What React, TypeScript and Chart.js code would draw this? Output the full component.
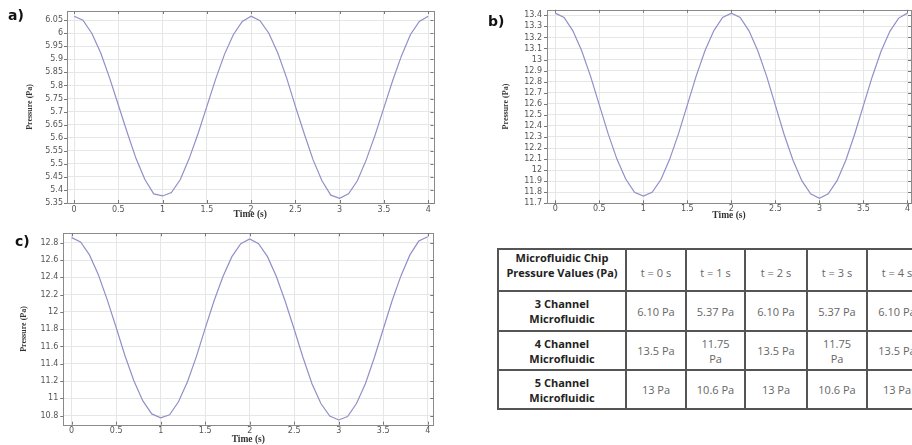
import React, { useEffect, useRef } from "react";
import { Chart, registerables } from "chart.js";

Chart.register(...registerables);

// ---------- data ----------
const times = [
  0, 0.1, 0.2, 0.3, 0.4, 0.5, 0.6, 0.7, 0.8, 0.9, 1.0, 1.1, 1.2, 1.3, 1.4, 1.5, 1.6, 1.7, 1.8, 1.9, 2.0,
  2.1, 2.2, 2.3, 2.4, 2.5, 2.6, 2.7, 2.8, 2.9, 3.0, 3.1, 3.2, 3.3, 3.4, 3.5, 3.6, 3.7, 3.8, 3.9, 4.0,
];

const pressure3Channel = [
  6.065, 6.05, 6.0, 5.925, 5.83, 5.725, 5.62, 5.52, 5.44, 5.385, 5.377, 5.39, 5.44, 5.52, 5.615, 5.72,
  5.825, 5.92, 5.995, 6.045, 6.065, 6.048, 6.0, 5.925, 5.83, 5.72, 5.615, 5.515, 5.435, 5.38, 5.368,
  5.385, 5.435, 5.515, 5.61, 5.715, 5.82, 5.915, 5.995, 6.045, 6.065,
];

const pressure4Channel = [
  13.42, 13.38, 13.26, 13.08, 12.85, 12.59, 12.33, 12.1, 11.92, 11.8, 11.765, 11.8, 11.915, 12.1, 12.33,
  12.59, 12.85, 13.08, 13.26, 13.38, 13.42, 13.38, 13.26, 13.08, 12.85, 12.585, 12.32, 12.09, 11.905,
  11.785, 11.745, 11.785, 11.905, 12.09, 12.325, 12.585, 12.845, 13.075, 13.255, 13.375, 13.42,
];

const pressure5Channel = [
  12.86, 12.81, 12.66, 12.43, 12.14, 11.82, 11.49, 11.2, 10.97, 10.82, 10.775, 10.81, 10.96, 11.19, 11.48,
  11.81, 12.13, 12.41, 12.64, 12.79, 12.845, 12.79, 12.64, 12.41, 12.12, 11.8, 11.47, 11.17, 10.94,
  10.795, 10.75, 10.79, 10.94, 11.17, 11.47, 11.8, 12.13, 12.42, 12.66, 12.82, 12.87,
];

const xTicks = [0, 0.5, 1, 1.5, 2, 2.5, 3, 3.5, 4];
const yTicksA = [5.35, 5.4, 5.45, 5.5, 5.55, 5.6, 5.65, 5.7, 5.75, 5.8, 5.85, 5.9, 5.95, 6, 6.05];
const yTicksB = [
  11.7, 11.8, 11.9, 12, 12.1, 12.2, 12.3, 12.4, 12.5, 12.6, 12.7, 12.8, 12.9, 13, 13.1, 13.2, 13.3, 13.4,
];
const yTicksC = [10.8, 11, 11.2, 11.4, 11.6, 11.8, 12, 12.2, 12.4, 12.6, 12.8];

const tableCorner = "Microfluidic Chip Pressure Values (Pa)";
const tableTimes = ["t = 0 s", "t = 1 s", "t = 2 s", "t = 3 s", "t = 4 s"];
const tableChannels = ["3 Channel Microfluidic", "4 Channel Microfluidic", "5 Channel Microfluidic"];
const table3Channel = ["6.10 Pa", "5.37 Pa", "6.10 Pa", "5.37 Pa", "6.10 Pa"];
const table4Channel = ["13.5 Pa", "11.75 Pa", "13.5 Pa", "11.75 Pa", "13.5 Pa"];
const table5Channel = ["13 Pa", "10.6 Pa", "13 Pa", "10.6 Pa", "13 Pa"];

// ---------- styles ----------
const LINE_COLOR = "#9090c8";
const GRID_COLOR = "#e6e6e6";
const FRAME_COLOR = "#8a8a8a";
const TICK_FONT = { family: "DejaVu Sans", size: 8 };
const TICK_COLOR = "#555";

const framePlugin = {
  id: "frameTicks",
  afterDraw(chart: any) {
    const { ctx, chartArea: a, scales } = chart;
    ctx.save();
    ctx.strokeStyle = FRAME_COLOR;
    ctx.lineWidth = 1;
    ctx.strokeRect(
      Math.round(a.left) + 0.5,
      Math.round(a.top) + 0.5,
      Math.round(a.right) - Math.round(a.left),
      Math.round(a.bottom) - Math.round(a.top)
    );
    ctx.strokeStyle = "#777";
    ctx.beginPath();
    for (const t of scales.x.ticks) {
      const px = Math.round(scales.x.getPixelForValue(t.value)) + 0.5;
      ctx.moveTo(px, a.bottom);
      ctx.lineTo(px, a.bottom - 3);
      ctx.moveTo(px, a.top);
      ctx.lineTo(px, a.top + 3);
    }
    for (const t of scales.y.ticks) {
      const py = Math.round(scales.y.getPixelForValue(t.value)) + 0.5;
      ctx.moveTo(a.left - 3, py);
      ctx.lineTo(a.left, py);
      ctx.moveTo(a.right, py);
      ctx.lineTo(a.right - 3, py);
    }
    ctx.stroke();
    ctx.restore();
  },
};

type PanelProps = {
  values: number[];
  yTicks: number[];
  xMin: number;
  xMax: number;
  yMin: number;
  yMax: number;
  width: number;
  height: number;
  pad: { left: number; top: number; right: number; bottom: number };
  yAxisWidth: number;
  xAxisHeight: number;
  xLabelPad: number;
  yLabelPad: number;
};

function Panel(p: PanelProps) {
  const ref = useRef<HTMLCanvasElement | null>(null);
  useEffect(() => {
    if (!ref.current) return;
    const chart = new Chart(ref.current, {
      type: "line",
      data: {
        datasets: [
          {
            data: times.map((t, i) => ({ x: t, y: p.values[i] })),
            borderColor: LINE_COLOR,
            borderWidth: 1.2,
            pointRadius: 0,
            tension: 0,
            fill: false,
          },
        ],
      },
      options: {
        responsive: false,
        animation: false,
        layout: { padding: p.pad },
        plugins: { legend: { display: false }, tooltip: { enabled: false } },
        scales: {
          x: {
            type: "linear",
            min: p.xMin,
            max: p.xMax,
            afterBuildTicks: (s: any) => {
              s.ticks = xTicks.map((v) => ({ value: v }));
            },
            afterFit: (s: any) => {
              s.height = p.xAxisHeight;
            },
            grid: { color: GRID_COLOR, drawTicks: false },
            border: { display: false },
            ticks: {
              autoSkip: false,
              maxRotation: 0,
              padding: p.xLabelPad,
              font: TICK_FONT,
              color: TICK_COLOR,
              callback: (v: any) => String(v),
            },
            title: {
              display: true,
              text: "Time (s)",
              font: { family: "Liberation Serif", size: 9.5, weight: "bold" },
              color: "#333",
              padding: 0,
            },
          },
          y: {
            type: "linear",
            min: p.yMin,
            max: p.yMax,
            afterBuildTicks: (s: any) => {
              s.ticks = p.yTicks.map((v) => ({ value: v }));
            },
            afterFit: (s: any) => {
              s.width = p.yAxisWidth;
            },
            grid: { color: GRID_COLOR, drawTicks: false },
            border: { display: false },
            ticks: {
              autoSkip: false,
              padding: p.yLabelPad,
              font: TICK_FONT,
              color: TICK_COLOR,
              callback: (v: any) => String(v),
            },
            title: {
              display: true,
              text: "Pressure (Pa)",
              font: { family: "Liberation Serif", size: 8, weight: "bold" },
              color: "#333",
              padding: 0,
            },
          },
        },
      } as any,
      plugins: [framePlugin],
    });
    return () => chart.destroy();
  }, []);
  return <canvas ref={ref} width={p.width} height={p.height} style={{ display: "block" }} />;
}

const labelStyle: React.CSSProperties = {
  position: "absolute",
  fontFamily: "DejaVu Sans",
  fontWeight: "bold",
  fontSize: 14,
  lineHeight: "14px",
  color: "#111",
};

const TABLE_COL_W = [128, 60, 59, 62, 60, 60];
const TABLE_ROW_H = [42, 40, 39, 39];

function DataTable() {
  const rows: string[][] = [
    [tableCorner, ...tableTimes],
    [tableChannels[0], ...table3Channel],
    [tableChannels[1], ...table4Channel],
    [tableChannels[2], ...table5Channel],
  ];
  const cells: React.ReactNode[] = [];
  let top = 0;
  rows.forEach((row, r) => {
    let left = 0;
    row.forEach((text, c) => {
      const isHeader = r === 0;
      const bold = c === 0;
      cells.push(
        <div
          key={`${r}-${c}`}
          style={{
            position: "absolute",
            left: left - 1,
            top: top - 1,
            width: TABLE_COL_W[c] + 2,
            height: TABLE_ROW_H[r] + 2,
            boxSizing: "border-box",
            border: "2px solid #555",
            display: "flex",
            flexDirection: "column",
            alignItems: "center",
            justifyContent: isHeader ? "flex-end" : "center",
            paddingBottom: isHeader ? 10 : 0,
            fontFamily: "Open Sans",
            fontSize: 11,
            lineHeight: "15px",
            fontWeight: bold ? "bold" : "normal",
            color: bold ? "#222" : "#666",
            textAlign: "center",
          }}
        >
          <div style={{ maxWidth: c === 0 ? (isHeader ? 116 : 90) : 40 }}>{text}</div>
        </div>
      );
      left += TABLE_COL_W[c];
    });
    top += TABLE_ROW_H[r];
  });
  return <div style={{ position: "absolute", left: 498, top: 249 }}>{cells}</div>;
}

export default function App() {
  return (
    <div
      style={{
        position: "fixed",
        left: 0,
        top: 0,
        width: 912,
        height: 445,
        overflow: "hidden",
        background: "#fff",
      }}
    >
      <div style={{ position: "absolute", left: 0, top: 0 }}>
        <Panel
          values={pressure3Channel}
          yTicks={yTicksA}
          xMin={-0.08}
          xMax={4.06}
          yMin={5.35}
          yMax={6.085}
          width={445}
          height={220}
          pad={{ left: 25, top: 11, right: 11.5, bottom: 0 }}
          yAxisWidth={42}
          xAxisHeight={17}
          xLabelPad={2}
          yLabelPad={4}
        />
      </div>
      <div style={{ position: "absolute", left: 456, top: 0, width: 456, height: 222, overflow: "hidden" }}>
        <Panel
          values={pressure4Channel}
          yTicks={yTicksB}
          xMin={-0.094}
          xMax={4.04}
          yMin={11.7}
          yMax={13.45}
          width={470}
          height={221}
          pad={{ left: 45, top: 9, right: 15, bottom: 0 }}
          yAxisWidth={46}
          xAxisHeight={17.7}
          xLabelPad={0.5}
          yLabelPad={5}
        />
      </div>
      <div style={{ position: "absolute", left: 0, top: 220 }}>
        <Panel
          values={pressure5Channel}
          yTicks={yTicksC}
          xMin={-0.094}
          xMax={4.063}
          yMin={10.695}
          yMax={12.91}
          width={445}
          height={225}
          pad={{ left: 19, top: 13.3, right: 11.7, bottom: 0 }}
          yAxisWidth={44.3}
          xAxisHeight={20.3}
          xLabelPad={1.2}
          yLabelPad={5}
        />
      </div>
      <div style={{ ...labelStyle, left: 8, top: 8 }}>a)</div>
      <div style={{ ...labelStyle, left: 488, top: 14 }}>b)</div>
      <div style={{ ...labelStyle, left: 15, top: 234 }}>c)</div>
      <DataTable />
    </div>
  );
}
